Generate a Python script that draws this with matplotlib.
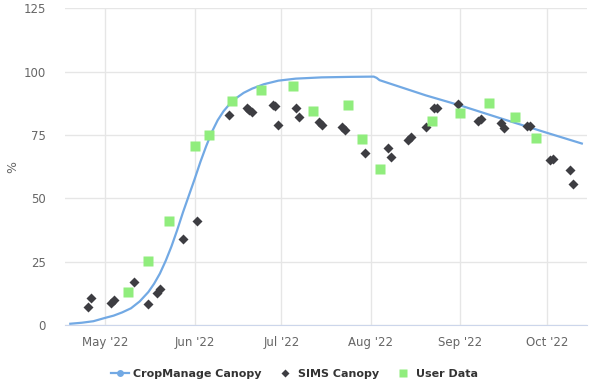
import matplotlib
matplotlib.use("Agg")
import matplotlib.pyplot as plt
import matplotlib.dates as mdates
from matplotlib.lines import Line2D
from datetime import datetime

# CropManage canopy curve (date, %)
cm_dates = ["2022-04-19", "2022-04-23", "2022-04-27", "2022-05-01", "2022-05-04",
            "2022-05-07", "2022-05-10", "2022-05-13", "2022-05-16", "2022-05-18",
            "2022-05-20", "2022-05-22", "2022-05-24", "2022-05-26", "2022-05-28",
            "2022-05-30", "2022-06-01", "2022-06-03", "2022-06-05", "2022-06-07",
            "2022-06-09", "2022-06-11", "2022-06-13", "2022-06-15", "2022-06-18",
            "2022-06-21", "2022-06-25", "2022-06-30", "2022-07-06", "2022-07-15",
            "2022-07-25", "2022-08-02", "2022-08-03", "2022-08-04", "2022-08-20",
            "2022-09-01", "2022-09-15", "2022-10-01", "2022-10-13"]
cm_values = [0.5, 0.9, 1.5, 2.8, 3.7,
             5.0, 6.6, 9.3, 13.0, 16.3,
             20.3, 25.3, 31.0, 37.5, 44.5,
             51.0, 57.5, 64.3, 70.5, 76.2,
             80.8, 84.3, 87.0, 89.2, 91.6,
             93.3, 95.0, 96.4, 97.2, 97.7,
             97.9, 98.0, 97.5, 96.6, 90.6,
             86.6, 81.5, 75.8, 71.6]

# SIMS canopy points
sims_dates = ["2022-04-25", "2022-04-26", "2022-05-03", "2022-05-04", "2022-05-11",
              "2022-05-16", "2022-05-19", "2022-05-20", "2022-05-28", "2022-06-02",
              "2022-06-13", "2022-06-19", "2022-06-20", "2022-06-21", "2022-06-28",
              "2022-06-29", "2022-06-30", "2022-07-06", "2022-07-07", "2022-07-14",
              "2022-07-15", "2022-07-22", "2022-07-23", "2022-07-30", "2022-08-07",
              "2022-08-08", "2022-08-14", "2022-08-15", "2022-08-20", "2022-08-23",
              "2022-08-24", "2022-08-31", "2022-09-07", "2022-09-08", "2022-09-15",
              "2022-09-16", "2022-09-24", "2022-09-25", "2022-10-02", "2022-10-03",
              "2022-10-09", "2022-10-10"]
sims_values = [7.2, 10.5, 8.8, 9.9, 16.8,
               8.2, 12.7, 14.1, 34.0, 41.1,
               82.7, 85.7, 85.0, 84.0, 86.8,
               86.4, 79.1, 85.8, 81.9, 80.2,
               78.9, 78.2, 76.9, 67.9, 69.7,
               66.4, 72.9, 74.0, 78.2, 85.7,
               85.7, 87.0, 80.6, 81.1, 79.8,
               77.8, 78.6, 78.6, 65.0, 65.6,
               61.1, 55.5]

# User data points
user_dates = ["2022-05-09", "2022-05-16", "2022-05-23", "2022-06-01", "2022-06-06",
              "2022-06-14", "2022-06-24", "2022-07-05", "2022-07-12", "2022-07-24",
              "2022-07-29", "2022-08-04", "2022-08-22", "2022-09-01", "2022-09-11",
              "2022-09-20", "2022-09-27"]
user_values = [13.1, 25.4, 41.1, 70.6, 74.9,
               88.4, 92.9, 94.2, 84.4, 86.8,
               73.3, 61.5, 80.4, 83.5, 87.4,
               81.9, 73.9]

month_ticks = ["2022-05-01", "2022-06-01", "2022-07-01", "2022-08-01",
               "2022-09-01", "2022-10-01"]

blue = "#72a9e4"
dark = "#3d3d42"
green = "#90ed7d"

def d(lst):
    return [datetime.strptime(s, "%Y-%m-%d") for s in lst]

fig = plt.figure(figsize=(5.98, 3.89), dpi=100)
ax = fig.add_axes([0.1087, 0.1645, 0.8729, 0.8145])

ax.plot(d(cm_dates), cm_values, color=blue, lw=1.6, zorder=3,
        solid_joinstyle="round")
ax.plot(d(sims_dates), sims_values, ls="none", marker="D", ms=5.2,
        color=dark, mec="none", zorder=4)
ax.plot(d(user_dates), user_values, ls="none", marker="s", ms=6.5,
        color=green, mec="none", zorder=4)

ax.set_xlim(datetime(2022, 4, 17, 4), datetime(2022, 10, 14, 19))
ax.set_ylim(0, 125)
ax.set_yticks([0, 25, 50, 75, 100, 125])
ax.set_xticks(d(month_ticks))
ax.xaxis.set_major_formatter(mdates.DateFormatter("%b '%y"))

ax.grid(True, color="#e6e6e6", lw=1)
ax.set_axisbelow(True)
for s in ["top", "right", "left"]:
    ax.spines[s].set_visible(False)
ax.spines["bottom"].set_color("#ccd6eb")
ax.tick_params(axis="both", length=0, colors="#666666", labelsize=8.5)
ax.tick_params(axis="x", pad=8)
ax.tick_params(axis="y", pad=14)
ax.set_ylabel("%", color="#666666", fontsize=9, labelpad=3)

handles = [
    Line2D([], [], color=blue, lw=1.6, marker="o", ms=5, mec="none"),
    Line2D([], [], ls="none", color=dark, marker="D", ms=4.5, mec="none"),
    Line2D([], [], ls="none", color=green, marker="s", ms=5.5, mec="none"),
]
labels = ["CropManage Canopy", "SIMS Canopy", "User Data"]
leg = fig.legend(handles, labels, loc="center", bbox_to_anchor=(0.4925, 0.038),
                 ncol=3, frameon=False, handlelength=1.6, columnspacing=1.3,
                 handletextpad=0.4,
                 prop={"weight": "bold", "size": 8})
for t in leg.get_texts():
    t.set_color("#333333")

fig.savefig("out.png", dpi=100)
